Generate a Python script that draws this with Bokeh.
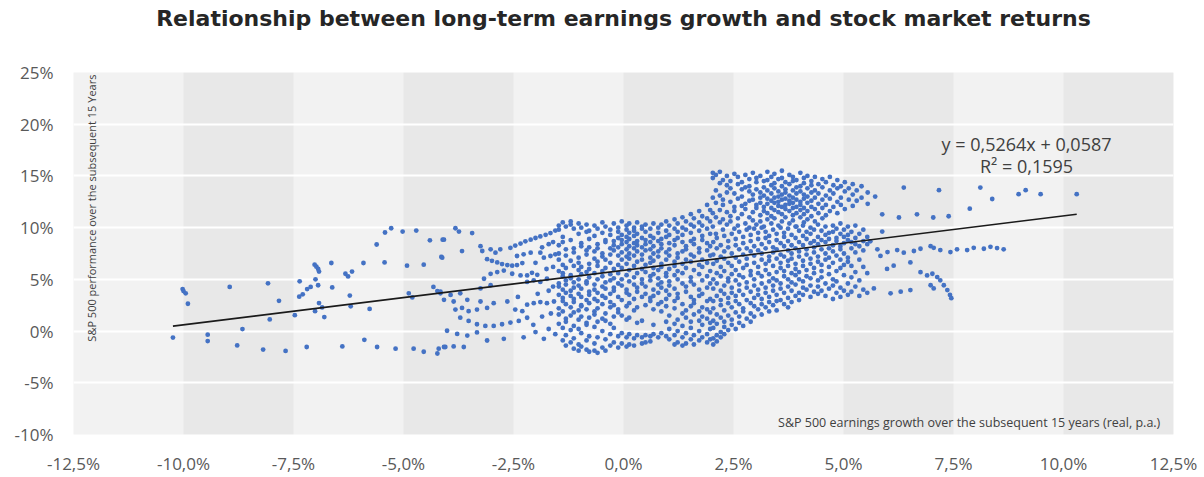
from bokeh.plotting import figure
from bokeh.models import BoxAnnotation, FixedTicker, Label, LinearAxis
from bokeh.embed import file_html
from bokeh.resources import INLINE

# Axis ticks (percent per year)
x_ticks = [-12.5, -10.0, -7.5, -5.0, -2.5, 0.0, 2.5, 5.0, 7.5, 10.0, 12.5]
x_tick_labels = ["-12,5%", "-10,0%", "-7,5%", "-5,0%", "-2,5%", "0,0%",
                 "2,5%", "5,0%", "7,5%", "10,0%", "12,5%"]
y_ticks = [-10, -5, 0, 5, 10, 15, 20, 25]
y_tick_labels = ["-10%", "-5%", "0%", "5%", "10%", "15%", "20%", "25%"]

# Linear trend fitted to the data (fractions)
slope = 0.5264
intercept = 0.0587
r_squared = 0.1595

# Rolling 15-year windows: (earnings growth % p.a., S&P 500 return % p.a.)
left_tail = [
    (-10.24, -0.63), (-10.02, 4.06), (-10.0, 3.87), (-9.95, 3.65), (-9.9, 2.64),
    (-9.45, -0.35), (-9.45, -0.97), (-8.95, 4.27), (-8.66, 0.19), (-8.78, -1.39),
    (-8.19, -1.79), (-8.08, 4.62), (-7.83, 2.92), (-8.04, 1.13), (-7.68, -1.92),
    (-7.47, 1.54), (-7.2, -1.54), (-7.36, 4.81), (-7.37, 3.33), (-7.29, 3.55),
    (-7.19, 4.06), (-7.11, 4.27), (-7.02, 6.42), (-6.98, 6.23), (-6.94, 6.01),
    (-6.92, 5.75), (-7.0, 5.0), (-6.94, 4.43), (-7.01, 1.92), (-6.92, 2.71),
    (-6.85, 2.29), (-6.8, 1.35), (-6.64, 6.58), (-6.62, 4.22), (-6.39, -1.48),
    (-6.32, 5.54), (-6.26, 5.28), (-6.17, 5.75), (-6.22, 3.43), (-6.2, 2.39),
    (-5.91, 6.58), (-5.89, -0.85), (-5.77, 2.14), (-5.61, 8.37), (-5.43, 6.64),
    (-5.42, 9.53), (-5.28, 9.94), (-5.6, -1.54), (-5.18, -1.7), (-5.02, 9.62),
    (-4.92, 6.32), (-4.88, 3.65), (-4.8, 3.25), (-4.77, -1.7), (-4.71, 9.72),
    (-4.54, 6.42), (-4.54, -2.0), (-4.4, 8.77), (-4.32, 4.27), (-4.23, 3.87),
    (-4.16, 3.65), (-4.23, -2.17), (-4.2, -1.7), (-4.08, -1.54), (-4.14, 7.17),
    (-4.11, 8.84),
]

mid_left = [
    (-3.82, 9.94), (-3.74, 9.62), (-3.44, 9.47), (-4.08, 8.84), (-3.67, 7.74),
    (-4.12, 7.1), (-3.25, 8.21), (-3.21, 7.74), (-3.02, 7.9), (-2.91, 7.58),
    (-2.8, 7.9), (-3.1, 6.95), (-2.99, 6.79), (-2.87, 6.64), (-2.76, 6.48),
    (-2.64, 6.38), (-2.53, 6.32), (-2.42, 6.38), (-2.3, 6.57), (-2.57, 8.05),
    (-2.46, 8.27), (-2.34, 8.46), (-2.23, 8.68), (-2.11, 8.84), (-2.0, 9.0),
    (-1.89, 9.15), (-1.77, 9.31), (-1.66, 9.47), (-1.55, 9.72), (-2.42, 7.26),
    (-2.27, 7.42), (-2.11, 7.58), (-1.89, 7.58), (-1.81, 7.1), (-1.66, 7.26),
    (-1.55, 7.42), (-3.17, 5.06), (-3.02, 5.54), (-2.87, 5.7), (-2.72, 5.85),
    (-2.53, 5.54), (-2.34, 5.38), (-2.19, 5.38), (-2.08, 5.63), (-1.96, 5.44),
    (-4.16, 3.8), (-3.93, 3.49), (-3.71, 3.65), (-3.25, 4.12), (-3.02, 4.43),
    (-2.19, 4.75), (-2.04, 4.91), (-1.89, 4.75), (-1.74, 5.06), (-4.08, 3.02),
    (-3.86, 2.86), (-3.55, 3.02), (-3.25, 2.86), (-3.82, 2.08), (-3.67, 2.24),
    (-3.52, 1.92), (-3.33, 2.08), (-3.1, 2.24), (-2.95, 2.7), (-2.64, 2.86),
    (-2.46, 2.08), (-2.3, 1.92), (-2.19, 2.55), (-2.04, 2.7), (-1.89, 2.8),
    (-1.74, 2.7), (-1.58, 2.86), (-3.71, 1.29), (-3.52, 0.98), (-3.33, 0.66),
    (-3.14, 0.5), (-2.95, 0.5), (-2.76, 0.66), (-2.57, 0.82), (-2.38, 0.98),
    (-2.19, 1.29), (-4.01, 0.03), (-3.78, -0.28), (-3.55, -0.44), (-3.33, -0.13),
    (-3.1, -0.91), (-2.72, -0.75), (-2.27, -0.6), (-1.81, -0.75), (-4.05, -1.54),
    (-3.86, -1.48), (-3.63, -1.54), (-1.7, 3.9), (-1.6, 4.3), (-1.95, 3.6),
    (-2.4, 3.3), (-1.65, 1.7), (-1.85, 1.4), (-2.05, 0.6), (-1.7, 0.2),
    (-1.55, -0.3), (-2.0, -0.1), (-1.6, 6.2), (-1.75, 6.0), (-2.0, 6.6),
    (-1.7, 8.4), (-1.85, 8.1), (-1.6, 8.6),
]

# Dense core, listed by growth value: returns observed at that growth rate
core = {
    -1.47: [10.2, 9.8, 8.3, 7.5, 6.9, 5.8, 4.6, 4.3, 3.5, 2.2, 1.6, 0.7],
    -1.38: [10.5, 9.1, 8.6, 6.4, 5.6, 5.3, 4.0, 3.2, 2.9, 1.9, 0.3, -0.9],
    -1.31: [10.1, 7.9, 7.3, 6.1, 4.9, 4.5, 3.7, 2.6, 1.2, 0.9, -0.4, -1.4],
    -1.2: [10.6, 10.3, 8.8, 6.8, 5.4, 5.1, 3.9, 3.4, 2.3, 1.5, 0.1, -1.1],
    -1.13: [9.9, 8.0, 7.6, 6.3, 4.7, 4.2, 3.1, 2.8, 1.8, 0.5, -0.7, -1.7],
    -1.02: [10.4, 9.4, 7.1, 6.6, 5.9, 5.0, 4.4, 3.6, 2.0, 1.1, 0.2, -1.3, -1.9],
    -0.96: [10.0, 8.5, 8.2, 6.2, 5.5, 4.1, 3.3, 2.5, 2.4, 1.4, -0.2, -1.5],
    -0.84: [10.3, 9.6, 7.8, 7.4, 5.7, 4.8, 4.6, 3.0, 2.1, 0.8, 0.6, -0.9, -1.8],
    -0.78: [9.7, 8.9, 8.1, 6.5, 6.0, 5.2, 3.8, 3.5, 2.7, 1.3, -0.5, -2.0],
    -0.66: [10.2, 9.2, 7.7, 7.0, 5.6, 4.5, 4.0, 3.1, 1.9, 1.6, 0.4, -1.2, -1.9],
    -0.59: [9.9, 8.4, 8.0, 6.7, 6.3, 5.0, 3.7, 2.9, 2.2, 0.9, -0.6, -2.1],
    -0.48: [10.5, 9.5, 7.5, 7.2, 5.8, 5.3, 4.3, 3.4, 2.6, 1.2, 0.0, -1.6],
    -0.41: [10.1, 8.8, 8.6, 6.9, 6.1, 4.7, 4.1, 3.2, 1.7, 1.0, -0.8, -1.9],
    -0.3: [9.8, 9.3, 8.0, 7.4, 6.6, 5.5, 4.9, 3.6, 2.8, 2.3, 0.7, -0.3, -1.4],
    -0.22: [10.4, 8.7, 8.3, 7.8, 6.0, 5.1, 4.2, 3.9, 2.5, 1.4, 0.3, -1.1],
    -0.12: [10.0, 9.6, 9.0, 8.1, 7.3, 6.4, 5.6, 4.6, 3.3, 2.1, 1.8, -0.5, -1.6],
    -0.04: [10.6, 9.3, 8.8, 8.4, 7.6, 6.9, 6.1, 5.0, 4.4, 3.0, 1.5, -0.2, -1.2],
    0.07: [10.2, 9.8, 9.1, 8.6, 7.9, 7.2, 6.5, 5.4, 4.0, 3.7, 2.4, 1.1, -0.6, -1.5],
    0.13: [10.4, 9.5, 8.9, 8.2, 7.5, 7.0, 5.9, 4.8, 3.5, 2.7, 1.3, -0.3, -1.3],
    0.24: [10.0, 9.7, 9.2, 8.5, 8.0, 7.3, 6.3, 5.2, 4.5, 3.1, 2.0, -0.7, -1.4],
    0.31: [10.5, 9.4, 8.7, 8.3, 7.7, 6.7, 5.6, 4.2, 3.8, 2.3, 0.8, -0.4],
    0.42: [10.1, 9.9, 9.0, 8.1, 7.4, 6.9, 6.0, 5.0, 4.6, 3.3, 1.0, -0.6, -1.2],
    0.5: [10.3, 9.6, 8.8, 8.4, 7.8, 6.4, 5.7, 4.3, 3.6, 2.5, -0.4, -1.1],
    0.61: [9.9, 9.2, 8.6, 7.9, 7.1, 6.6, 5.3, 4.9, 3.2, 2.9, -0.5, -1.0],
    0.68: [10.4, 9.0, 8.2, 7.5, 6.8, 6.1, 5.5, 4.0, 3.4, 2.1, 0.6, -0.3],
    0.79: [10.0, 9.5, 8.7, 7.7, 7.2, 5.9, 5.1, 4.5, 3.7, 2.6, -0.6],
    0.86: [10.3, 8.9, 8.4, 8.0, 6.5, 6.2, 4.7, 4.2, 2.8, 1.9, -0.2],
    0.97: [10.6, 9.7, 9.1, 7.6, 6.9, 5.6, 5.3, 3.9, 3.1, 2.4, 0.9, -0.5],
    1.04: [10.2, 9.3, 8.5, 7.9, 7.3, 6.0, 4.8, 4.4, 3.5, 1.5, 0.2, -0.8],
    1.16: [10.8, 9.9, 8.8, 8.3, 6.7, 6.3, 5.4, 4.1, 2.9, 2.2, 0.7, -0.4, -1.3],
    1.23: [10.4, 9.6, 9.0, 7.5, 7.1, 5.8, 5.0, 3.6, 3.2, 1.1, 0.0, -1.1],
    1.34: [11.0, 10.0, 9.3, 8.6, 7.7, 6.5, 5.6, 4.6, 2.6, 1.7, 0.5, -0.6, -1.4],
    1.42: [10.6, 9.8, 8.2, 7.9, 6.9, 6.1, 4.3, 3.8, 2.0, 1.3, -0.2, -1.2],
    1.53: [11.3, 10.3, 9.5, 8.7, 7.4, 6.7, 5.2, 4.8, 3.3, 2.4, 0.9, 0.3, -0.8],
    1.6: [10.9, 10.1, 8.9, 8.4, 7.2, 5.9, 4.5, 3.0, 2.7, 1.6, -0.4, -1.3],
    1.72: [11.6, 10.5, 9.7, 8.0, 7.6, 6.4, 5.5, 4.0, 3.4, 1.9, 1.0, 0.0, -0.9],
    1.79: [11.1, 10.2, 9.2, 8.8, 6.9, 6.2, 4.9, 3.6, 2.3, 1.4, 0.6, -0.6],
    1.9: [12.2, 10.9, 9.9, 8.5, 7.8, 6.6, 5.3, 4.2, 2.9, 2.1, 1.2, -0.3, -1.1],
    1.97: [11.7, 10.6, 9.4, 8.2, 7.3, 5.8, 4.6, 3.1, 1.8, 0.8, 0.2, -0.8],
}

# High-return cluster
upper = {
    2.03: [15.3, 14.8, 12.9, 11.4, 10.1],
    2.1: [15.1, 13.6, 12.4, 11.0, 9.4],
    2.19: [15.4, 14.3, 13.1, 11.7, 10.5],
    2.26: [14.6, 12.7, 12.2, 10.8, 9.8],
    2.35: [15.0, 14.1, 13.4, 11.5, 10.3],
    2.43: [14.5, 13.8, 12.5, 11.1, 10.6],
    2.52: [15.2, 13.3, 12.0, 11.6, 9.9],
    2.6: [14.9, 14.2, 12.8, 10.9, 10.2],
    2.69: [14.4, 13.7, 13.0, 12.1, 11.3],
    2.77: [15.1, 13.9, 12.3, 11.8, 10.4],
    2.86: [14.7, 14.0, 13.5, 12.6, 11.0, 10.0],
    2.94: [15.3, 13.2, 12.7, 11.5, 10.7],
    3.02: [14.8, 14.4, 13.7, 12.2, 11.9, 10.3],
    3.11: [15.0, 13.4, 12.9, 12.4, 11.2, 10.6],
    3.19: [14.5, 13.9, 13.1, 12.0, 11.6, 10.1],
    3.27: [15.4, 14.6, 13.6, 12.8, 12.3, 11.4, 10.8],
    3.36: [14.9, 14.1, 13.3, 12.6, 11.9, 11.1, 10.4],
    3.43: [15.2, 14.3, 13.8, 12.9, 12.4, 11.7, 10.9],
    3.52: [14.7, 13.5, 13.0, 12.5, 12.1, 11.5, 10.2],
    3.6: [15.5, 14.8, 14.0, 13.2, 12.7, 12.0, 11.3, 10.6],
    3.68: [14.4, 13.7, 13.4, 12.8, 12.2, 11.8, 11.0],
    3.77: [15.1, 14.2, 13.1, 12.6, 12.3, 11.6, 10.4],
    3.85: [14.9, 14.5, 13.6, 12.9, 12.4, 11.9, 11.2, 10.7],
    3.93: [14.6, 13.9, 13.3, 12.7, 12.0, 11.4, 10.1],
    4.02: [15.3, 14.0, 13.5, 12.5, 12.2, 11.7, 11.0],
    4.1: [14.8, 14.3, 13.2, 12.8, 11.9, 11.3, 10.5],
    4.18: [15.0, 13.8, 13.0, 12.4, 11.6, 10.8],
    4.27: [14.5, 14.1, 13.4, 12.6, 12.0, 11.1],
    4.35: [14.9, 13.6, 12.9, 11.8, 10.6],
    4.43: [14.2, 13.3, 12.3, 11.4],
    4.52: [14.7, 13.9, 12.7, 11.9, 10.9],
    4.6: [14.4, 13.1, 12.2, 11.2],
    4.69: [14.9, 13.6, 12.8, 11.6],
    4.77: [14.1, 13.3, 12.0],
    4.86: [14.6, 13.8, 12.5, 11.4],
    4.94: [14.0, 12.9, 12.2],
    5.03: [14.4, 13.5, 11.8],
    5.12: [13.8, 12.7],
    5.21: [14.2, 13.2, 12.1],
    5.3: [13.6, 12.6],
    5.41: [14.0, 12.9],
    5.55: [13.4, 12.3],
    5.72: [13.0],
}

# Moderate-return windows with strong earnings growth
lower_right = {
    2.04: [8.6, 7.4, 6.5, 5.0, 4.1, 2.9, 2.2, 1.0, 0.3, -0.7, -1.3],
    2.12: [9.0, 8.0, 6.8, 5.6, 4.6, 3.4, 1.6, 0.7, -0.4, -1.0],
    2.21: [8.3, 7.2, 6.2, 5.3, 3.9, 3.0, 2.5, 1.3, -0.1, -0.6],
    2.29: [9.2, 7.7, 7.0, 5.8, 4.4, 3.6, 2.0, 0.9, 0.4, -0.3],
    2.38: [8.7, 8.1, 6.6, 5.1, 4.8, 3.2, 2.7, 1.5, 0.1],
    2.46: [9.4, 7.5, 6.3, 5.5, 4.2, 3.7, 2.3, 1.1, 0.6],
    2.55: [8.9, 8.3, 7.1, 5.9, 4.9, 3.4, 2.9, 1.8, 0.2],
    2.63: [9.6, 7.9, 6.7, 5.4, 4.5, 3.9, 2.6, 1.4, 0.8],
    2.72: [9.1, 8.5, 7.4, 6.1, 5.2, 3.5, 2.2, 1.9, 0.5],
    2.8: [9.8, 8.0, 7.0, 6.4, 4.7, 4.2, 3.0, 1.2],
    2.89: [9.3, 8.7, 7.7, 5.8, 5.4, 3.8, 2.7, 1.7, 0.9],
    2.97: [9.9, 8.2, 7.3, 6.6, 5.0, 4.4, 3.2, 2.4, 1.4],
    3.06: [9.5, 8.9, 7.8, 6.2, 5.6, 4.0, 3.5, 2.1],
    3.14: [10.0, 8.4, 7.5, 6.9, 5.3, 4.6, 3.1, 2.6, 1.6],
    3.23: [9.6, 9.0, 8.0, 6.5, 5.9, 4.2, 3.7, 2.3],
    3.31: [9.2, 8.6, 7.2, 6.8, 5.5, 4.8, 3.3, 2.8, 1.9],
    3.4: [9.8, 8.1, 7.6, 6.3, 5.1, 4.4, 3.9, 2.5],
    3.48: [9.4, 8.8, 7.9, 7.0, 5.7, 4.9, 3.5, 2.9, 2.0],
    3.57: [10.0, 8.5, 7.4, 6.6, 6.1, 4.6, 4.1, 3.0],
    3.65: [9.5, 9.1, 8.2, 7.2, 5.8, 5.3, 3.7, 2.6],
    3.74: [9.9, 8.7, 7.8, 6.8, 6.3, 5.0, 4.3, 3.2, 2.3],
    3.82: [9.3, 8.3, 7.5, 7.0, 5.6, 4.7, 3.9, 2.8],
    3.91: [10.1, 9.0, 8.0, 6.5, 6.0, 5.4, 4.5, 3.4],
    3.99: [9.7, 8.6, 7.7, 7.2, 5.7, 5.0, 3.7, 3.0],
    4.08: [10.2, 9.2, 8.3, 6.8, 6.3, 4.8, 4.2, 3.5],
    4.16: [9.6, 8.9, 7.9, 7.4, 5.9, 5.3, 4.0],
    4.25: [10.0, 9.4, 8.5, 7.0, 6.5, 5.1, 4.4, 3.3],
    4.33: [9.8, 8.7, 8.1, 7.6, 6.1, 5.6, 3.8],
    4.42: [10.3, 9.1, 8.4, 7.2, 6.7, 4.9, 4.3, 3.6],
    4.5: [9.7, 8.8, 7.9, 6.4, 5.8, 5.2, 3.9],
    4.59: [10.1, 9.3, 8.6, 7.5, 6.9, 4.6, 3.4],
    4.67: [9.5, 8.9, 8.0, 7.1, 6.2, 5.5, 4.1],
    4.76: [10.2, 9.6, 8.3, 7.7, 6.6, 5.0, 4.4, 3.1],
    4.84: [9.9, 9.0, 8.7, 7.3, 5.8, 4.8, 3.7],
    4.93: [10.4, 9.4, 8.2, 7.9, 6.9, 6.1, 4.2, 3.3],
    5.01: [9.8, 9.1, 8.5, 7.5, 6.4, 5.4, 3.9],
    5.1: [10.1, 9.3, 8.8, 7.1, 6.7, 4.6, 3.5],
    5.18: [9.6, 8.6, 8.0, 6.3, 5.2, 3.8],
    5.27: [10.2, 9.0, 8.4, 7.6, 5.7, 4.3],
    5.36: [9.4, 8.2, 6.9, 4.9, 3.4],
    5.45: [9.8, 8.7, 7.8, 6.2, 4.0],
    5.54: [9.1, 8.4, 5.6, 3.7],
}

right_tail = [
    (6.37, 13.87), (7.17, 13.62), (8.11, 13.87), (8.38, 12.77), (8.98, 13.24),
    (9.14, 13.62), (9.48, 13.24), (10.3, 13.24), (7.87, 11.83), (5.88, 11.29),
    (6.26, 10.98), (6.67, 11.29), (7.04, 10.98), (7.39, 11.1),
    (5.77, 7.9), (6.0, 7.64), (6.22, 7.83), (6.37, 7.58), (6.6, 7.74),
    (6.75, 7.96), (6.98, 8.21), (7.05, 8.05), (7.2, 7.83), (7.43, 7.64),
    (7.58, 7.9), (7.81, 7.83), (7.96, 8.05), (8.19, 7.96), (8.34, 8.15),
    (8.49, 8.02), (8.64, 7.9),
    (5.88, 9.62), (5.61, 8.68), (5.84, 7.27), (5.99, 6.01), (6.14, 6.32),
    (6.52, 6.64), (6.75, 5.69), (6.9, 5.38), (7.02, 5.54), (7.13, 5.22),
    (7.2, 4.91), (7.28, 4.43), (7.36, 3.96), (7.42, 3.49), (7.45, 3.18),
    (6.98, 4.43), (7.05, 4.12), (5.69, 4.12), (6.07, 3.65), (6.3, 3.81),
    (6.52, 3.96),
]

# Collect every observation into plain x / y lists
growth, returns = [], []
for pairs in (left_tail, mid_left, right_tail):
    for gx, ry in pairs:
        growth.append(gx)
        returns.append(ry)
for table in (core, upper, lower_right):
    for gx, ys in table.items():
        for ry in ys:
            growth.append(gx)
            returns.append(ry)

FONT = "Open Sans"
TEXT = "#404040"

p = figure(
    width=1204, height=477,
    x_range=(x_ticks[0], x_ticks[-1]), y_range=(y_ticks[0], y_ticks[-1]),
    output_backend="svg", toolbar_location=None,
    min_border_left=73, min_border_right=31,
    min_border_top=72, min_border_bottom=34,
)
p.background_fill_color = "#f2f2f2"
p.border_fill_color = "white"
p.outline_line_color = None

# Alternating column shading between the x ticks
for i in range(1, len(x_ticks) - 1, 2):
    p.add_layout(BoxAnnotation(left=x_ticks[i], right=x_ticks[i + 1],
                               fill_color="#e8e8e8", fill_alpha=1.0,
                               line_color=None, level="image"))

p.xgrid.visible = False
p.ygrid.ticker = FixedTicker(ticks=y_ticks)
p.ygrid.grid_line_color = "white"
p.ygrid.grid_line_width = 2

for ax in (p.xaxis[0], p.yaxis[0]):
    ax.axis_line_color = None
    ax.major_tick_line_color = None
    ax.minor_tick_line_color = None
    ax.major_label_text_font = FONT
    ax.major_label_text_font_size = "17px"
    ax.major_label_text_color = "#595959"

p.xaxis.ticker = FixedTicker(ticks=x_ticks)
p.xaxis.major_label_overrides = dict(zip(x_ticks, x_tick_labels))
p.xaxis.major_label_standoff = 11
p.yaxis.ticker = FixedTicker(ticks=y_ticks)
p.yaxis.major_label_standoff = 14
p.yaxis.major_label_overrides = dict(zip(y_ticks, y_tick_labels))

# Heading carried by a bare axis above the plot area
heading = LinearAxis(
    axis_label="Relationship between long-term earnings growth and stock market returns",
    ticker=FixedTicker(ticks=[]),
    axis_line_color=None, major_tick_line_color=None, minor_tick_line_color=None,
    major_label_text_font_size="0px", major_label_standoff=0,
    axis_label_standoff=42,
    axis_label_text_font="DejaVu Sans", axis_label_text_font_style="bold",
    axis_label_text_font_size="22px", axis_label_text_color="#262626",
)
p.add_layout(heading, "above")

p.scatter(growth, returns, size=4.8, marker="circle",
          fill_color="#4472c4", line_color=None)

# Linear trend across the observed growth range
x_lo, x_hi = min(growth), max(growth)
p.line([x_lo, x_hi],
       [slope * x_lo + intercept * 100, slope * x_hi + intercept * 100],
       line_color="#1a1a1a", line_width=1.6)

eq_text = f"y = {slope:.4f}x + {intercept:.4f}".replace(".", ",")
r2_text = f"R\u00b2 = {r_squared:.4f}".replace(".", ",")
p.add_layout(Label(x=9.16, y=18.1, text=eq_text, text_align="center",
                   text_baseline="middle", text_font=FONT,
                   text_font_size="18px", text_color=TEXT))
p.add_layout(Label(x=9.16, y=16.0, text=r2_text, text_align="center",
                   text_baseline="middle", text_font=FONT,
                   text_font_size="18px", text_color=TEXT))

# In-plot axis captions
p.add_layout(Label(x=-12.08, y=24.8, angle=1.5707963,
                   text="S&P 500 performance over the subsequent 15 Years",
                   text_align="right", text_baseline="middle",
                   text_font=FONT, text_font_size="11px", text_color=TEXT))
p.add_layout(Label(x=12.2, y=-8.8,
                   text="S&P 500 earnings growth over the subsequent 15 years (real, p.a.)",
                   text_align="right", text_baseline="middle",
                   text_font=FONT, text_font_size="12.5px", text_color=TEXT))

open("out.html", "w").write(file_html(p, INLINE))
